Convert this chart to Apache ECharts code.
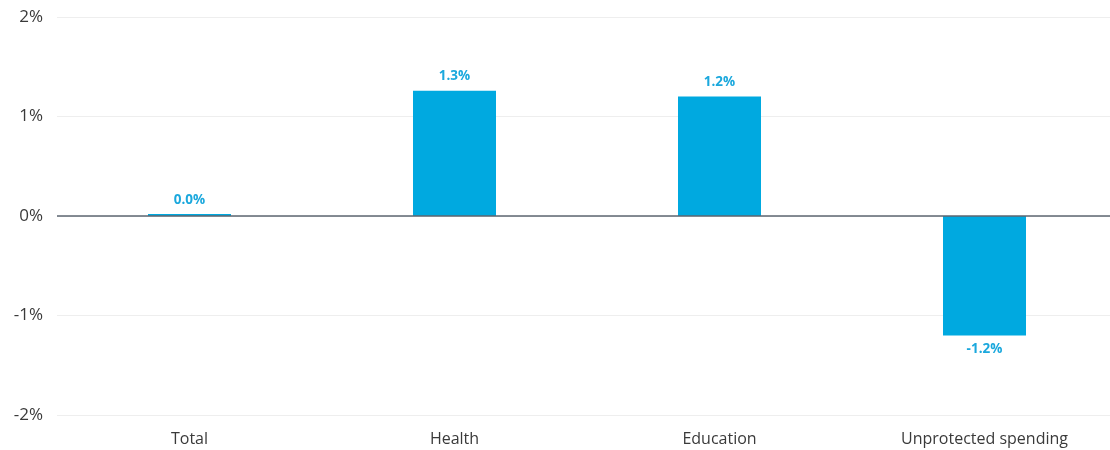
<!DOCTYPE html>
<html>
<head>
<meta charset="utf-8">
<script src="https://cdn.jsdelivr.net/npm/echarts@6/dist/echarts.min.js"></script>
<style>html,body{margin:0;padding:0;background:#fff;overflow:hidden;width:1110px;height:450px}#c{width:1117px;height:450px}</style>
</head>
<body>
<div id="c"></div>
<script>
var categories = ['Total', 'Health', 'Education', 'Unprotected spending'];
var values = [0.02, 1.26, 1.2, -1.2];
var labels = ['0.0%', '1.3%', '1.2%', '-1.2%'];
var yTicks = [-2, -1, 0, 1, 2];

var chart = echarts.init(document.getElementById('c'));
var FONT = 'Open Sans';
chart.setOption({
  animation: false,
  grid: { left: 57, top: 17, right: 0, bottom: 35, containLabel: false, outerBoundsMode: 'none' },
  xAxis: {
    type: 'category',
    data: categories,
    axisLine: { show: false, onZero: false },
    axisTick: { show: false },
    axisLabel: { color: '#3a3a3a', fontSize: 16, fontFamily: FONT, margin: 16 }
  },
  yAxis: {
    type: 'value',
    min: yTicks[0], max: yTicks[yTicks.length - 1], interval: 1,
    axisLine: { show: false },
    axisTick: { show: false },
    splitLine: { lineStyle: { color: '#eeeeee', width: 1 } },
    axisLabel: { color: '#3a3a3a', fontSize: 17, fontFamily: FONT, margin: 14,
      formatter: function (v) { return v + '%'; } }
  },
  series: [{
    type: 'bar',
    barWidth: 83,
    itemStyle: { color: '#00a9e0' },
    data: values.map(function (v, i) {
      return {
        value: v,
        label: {
          show: true,
          position: v < 0 ? 'bottom' : 'top',
          distance: 7,
          formatter: labels[i],
          color: '#1ba8dd',
          fontWeight: 'bold',
          fontSize: 13.5,
          fontFamily: FONT
        }
      };
    }),
    markLine: {
      silent: true,
      symbol: ['none', 'none'],
      label: { show: false },
      lineStyle: { color: '#5c6670', width: 1.5, type: 'solid' },
      data: [{ yAxis: 0 }]
    }
  }]
});
</script>
</body>
</html>
